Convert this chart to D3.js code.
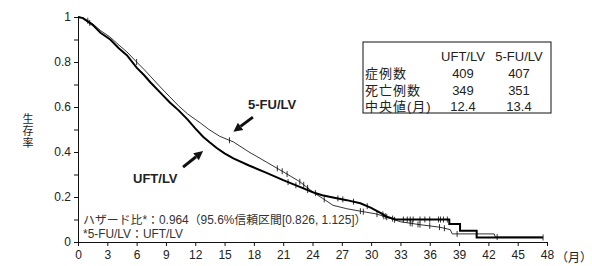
<!DOCTYPE html>
<html>
<head>
<meta charset="utf-8">
<script src="https://cdn.jsdelivr.net/npm/d3@7"></script>
<style>
  body { margin: 0; background: #fff; }
  svg text { font-family: "Liberation Sans", Arial, "Noto Sans CJK JP", sans-serif; }
  svg text.jp { font-family: "Noto Sans CJK JP", "Liberation Sans", sans-serif; }
</style>
</head>
<body>
<div id="chart"></div>
<script>
// Kaplan-Meier curves: [month, survival]
var uftCurve = [
  [0, 1.0], [0.5, 0.995], [1.5, 0.965], [2.3, 0.93], [3.3, 0.9], [4.2, 0.86],
  [5, 0.83], [6, 0.775], [6.8, 0.74], [7.4, 0.71], [8.4, 0.665], [9.4, 0.62],
  [10.3, 0.585], [11.2, 0.545], [12, 0.505], [12.8, 0.468], [13.5, 0.442],
  [14.2, 0.418], [15.0, 0.394], [15.9, 0.372], [17.5, 0.34], [19.3, 0.307],
  [21, 0.275], [22.7, 0.245], [24.1, 0.22], [25, 0.208], [26.1, 0.198],
  [27.5, 0.186], [28.9, 0.172], [30, 0.152], [31, 0.128], [31.6, 0.112],
  [32.5, 0.1], [38, 0.1], [38, 0.08], [39.1, 0.08], [39.1, 0.05], [40.8, 0.05],
  [40.8, 0.02], [47.6, 0.02]
];
var fuCurve = [
  [0, 1.0], [0.5, 0.997], [1.5, 0.97], [2.3, 0.94], [3.3, 0.91], [4.2, 0.875],
  [5, 0.845], [6, 0.8], [6.8, 0.765], [7.4, 0.737], [8.4, 0.69], [9.4, 0.645],
  [10.3, 0.605], [11.2, 0.57], [12, 0.545], [12.5, 0.53], [13.4, 0.5],
  [14.5, 0.47], [15.9, 0.445], [17.5, 0.4], [19.3, 0.355], [21, 0.312],
  [22.7, 0.268], [24.1, 0.22], [25, 0.195], [26.1, 0.163], [27.5, 0.148],
  [28.9, 0.137], [30.5, 0.125], [31.6, 0.11], [33, 0.09], [35, 0.077],
  [37, 0.066], [38.1, 0.055], [38.3, 0.036], [42.6, 0.036], [42.7, 0.022],
  [47.5, 0.022]
];
// censored observations (months)
var uftCensor = [1.2, 21.5, 22.3, 23.5, 24.3, 26.6, 27.1, 28.2, 29.6, 31.2, 31.5,
  32.2, 33.3, 33.7, 34.0, 34.3, 35.0, 35.5, 36.0, 36.9, 37.1, 37.4, 37.8, 47.6];
var fuCensor = [1.0, 6.0, 15.5, 20.4, 20.9, 21.4, 22.7, 23.1, 23.5, 25.2, 28.9,
  29.2, 30.6, 31.3, 31.6, 32.4, 34.0, 34.2, 34.8, 35.0, 36.0, 37.0, 37.5, 38.8,
  40.8, 42.9];

var xTicks = [0, 3, 6, 9, 12, 15, 18, 21, 24, 27, 30, 33, 36, 39, 42, 45, 48];
var yTicks = [0, 0.2, 0.4, 0.6, 0.8, 1];
var yMinor = [0.1, 0.3, 0.5, 0.7, 0.9];

var tableHead = ["UFT/LV", "5-FU/LV"];
var tableRows = ["症例数", "死亡例数", "中央値(月)"];
var tableUft = ["409", "349", "12.4"];
var tableFu = ["407", "351", "13.4"];

var width = 592;
var height = 266;

var svg = d3.select('#chart')
  .append("svg")
  .attr("width", width)
  .attr("height", height)

var x = d3.scaleLinear().domain([0, 48]).range([78, 547])
var y = d3.scaleLinear().domain([0, 1]).range([242, 17])

// axes
var yAxis = svg.append("g")
  .attr("transform", "translate(78,0)")
  .call(d3.axisLeft(y).tickValues(yTicks).tickSize(4).tickSizeOuter(0)
    .tickFormat(function (d) { return (d === 0 || d === 1) ? d : d.toFixed(1) }))
svg.append("g")
  .attr("transform", "translate(78,0)")
  .call(d3.axisLeft(y).tickValues(yMinor).tickSize(4).tickFormat(""))
  .select(".domain").remove()

var xAxis = svg.append("g")
  .attr("transform", "translate(0,242)")
  .call(d3.axisBottom(x).tickValues(xTicks).tickSize(4).tickSizeOuter(0))

svg.selectAll(".tick text")
  .attr("font-size", 12)
  .attr("fill", "#222")
svg.selectAll(".domain, .tick line").attr("stroke", "#111")
yAxis.selectAll(".tick text").attr("x", -7)
xAxis.selectAll(".tick text").attr("y", 8)

svg.append("text")
  .attr("class", "jp")
  .attr("x", 556)
  .attr("y", 262)
  .attr("font-size", 12)
  .attr("fill", "#222")
  .text("（月）")

// y title, written vertically
svg.append("text")
  .attr("class", "jp")
  .attr("x", 28)
  .attr("y", 131)
  .attr("text-anchor", "middle")
  .style("writing-mode", "vertical-rl")
  .attr("letter-spacing", 1)
  .attr("font-size", 11)
  .attr("fill", "#222")
  .text("生存率")

// curves
var line = d3.line()
  .x(function (d) { return x(d[0]) })
  .y(function (d) { return y(d[1]) })

svg.append("path")
  .datum(fuCurve)
  .attr("d", line)
  .attr("fill", "none")
  .attr("stroke", "#000")
  .attr("stroke-width", 0.8)

svg.append("path")
  .datum(uftCurve)
  .attr("d", line)
  .attr("fill", "none")
  .attr("stroke", "#000")
  .attr("stroke-width", 2)

function survivalAt(curve, m) {
  for (var i = 1; i < curve.length; i++) {
    var a = curve[i - 1], b = curve[i];
    if (m <= b[0] && b[0] > a[0]) {
      return a[1] + (b[1] - a[1]) * (m - a[0]) / (b[0] - a[0]);
    }
  }
  return curve[curve.length - 1][1];
}

function drawCensor(times, curve) {
  svg.append("g").selectAll("line")
    .data(times)
    .enter()
    .append("line")
    .attr("x1", function (d) { return x(d) })
    .attr("x2", function (d) { return x(d) })
    .attr("y1", function (d) { return y(survivalAt(curve, d)) - 3 })
    .attr("y2", function (d) { return y(survivalAt(curve, d)) + 3 })
    .attr("stroke", "#000")
    .attr("stroke-width", 0.8)
}
drawCensor(uftCensor, uftCurve)
drawCensor(fuCensor, fuCurve)

// arrows + labels
function arrow(from, to) {
  var x1 = x(from[0]), y1 = y(from[1]), x2 = x(to[0]), y2 = y(to[1]);
  var ang = Math.atan2(y2 - y1, x2 - x1);
  var hl = 9, hw = 4.5;
  var bx = x2 - hl * Math.cos(ang), by = y2 - hl * Math.sin(ang);
  svg.append("line")
    .attr("x1", x1).attr("y1", y1).attr("x2", bx).attr("y2", by)
    .attr("stroke", "#111").attr("stroke-width", 3)
  svg.append("polygon")
    .attr("points", [
      [x2, y2],
      [bx + hw * Math.sin(ang), by - hw * Math.cos(ang)],
      [bx - hw * Math.sin(ang), by + hw * Math.cos(ang)]
    ].join(" "))
    .attr("fill", "#111")
}
arrow([17.9, 0.555], [15.9, 0.49])
arrow([10.75, 0.333], [12.8, 0.404])

svg.append("text")
  .attr("x", 248).attr("y", 109)
  .attr("font-size", 13).attr("font-weight", "bold").attr("fill", "#222")
  .text("5-FU/LV")
svg.append("text")
  .attr("x", 133).attr("y", 183)
  .attr("font-size", 13).attr("font-weight", "bold").attr("fill", "#222")
  .text("UFT/LV")

// hazard ratio note
svg.append("text")
  .attr("x", 83).attr("y", 224)
  .attr("font-size", 11.9).attr("fill", "#333")
  .text("ハザード比*：0.964（95.6%信頼区間[0.826, 1.125]）")
svg.append("text")
  .attr("x", 83).attr("y", 238)
  .attr("font-size", 11.9).attr("fill", "#333")
  .text("*5-FU/LV：UFT/LV")

// table
var table = svg.append("g")
table.append("rect")
  .attr("x", 363).attr("y", 42).attr("width", 188).attr("height", 71)
  .attr("fill", "#fff").attr("stroke", "#111").attr("stroke-width", 1)

var colX = [463, 519];
table.selectAll(".head")
  .data(tableHead)
  .enter()
  .append("text")
  .attr("class", "head")
  .attr("x", function (d, i) { return colX[i] })
  .attr("y", 61)
  .attr("text-anchor", "middle")
  .attr("font-size", 13)
  .attr("fill", "#222")
  .text(function (d) { return d })

tableRows.forEach(function (r, i) {
  var yy = 78 + i * 16.7;
  table.append("text")
    .attr("x", 365).attr("y", yy)
    .attr("font-size", 13).attr("letter-spacing", 1).attr("fill", "#222")
    .text(r)
  table.append("text")
    .attr("x", colX[0]).attr("y", yy)
    .attr("text-anchor", "middle")
    .attr("font-size", 13).attr("fill", "#222")
    .text(tableUft[i])
  table.append("text")
    .attr("x", colX[1]).attr("y", yy)
    .attr("text-anchor", "middle")
    .attr("font-size", 13).attr("fill", "#222")
    .text(tableFu[i])
})
</script>
</body>
</html>
